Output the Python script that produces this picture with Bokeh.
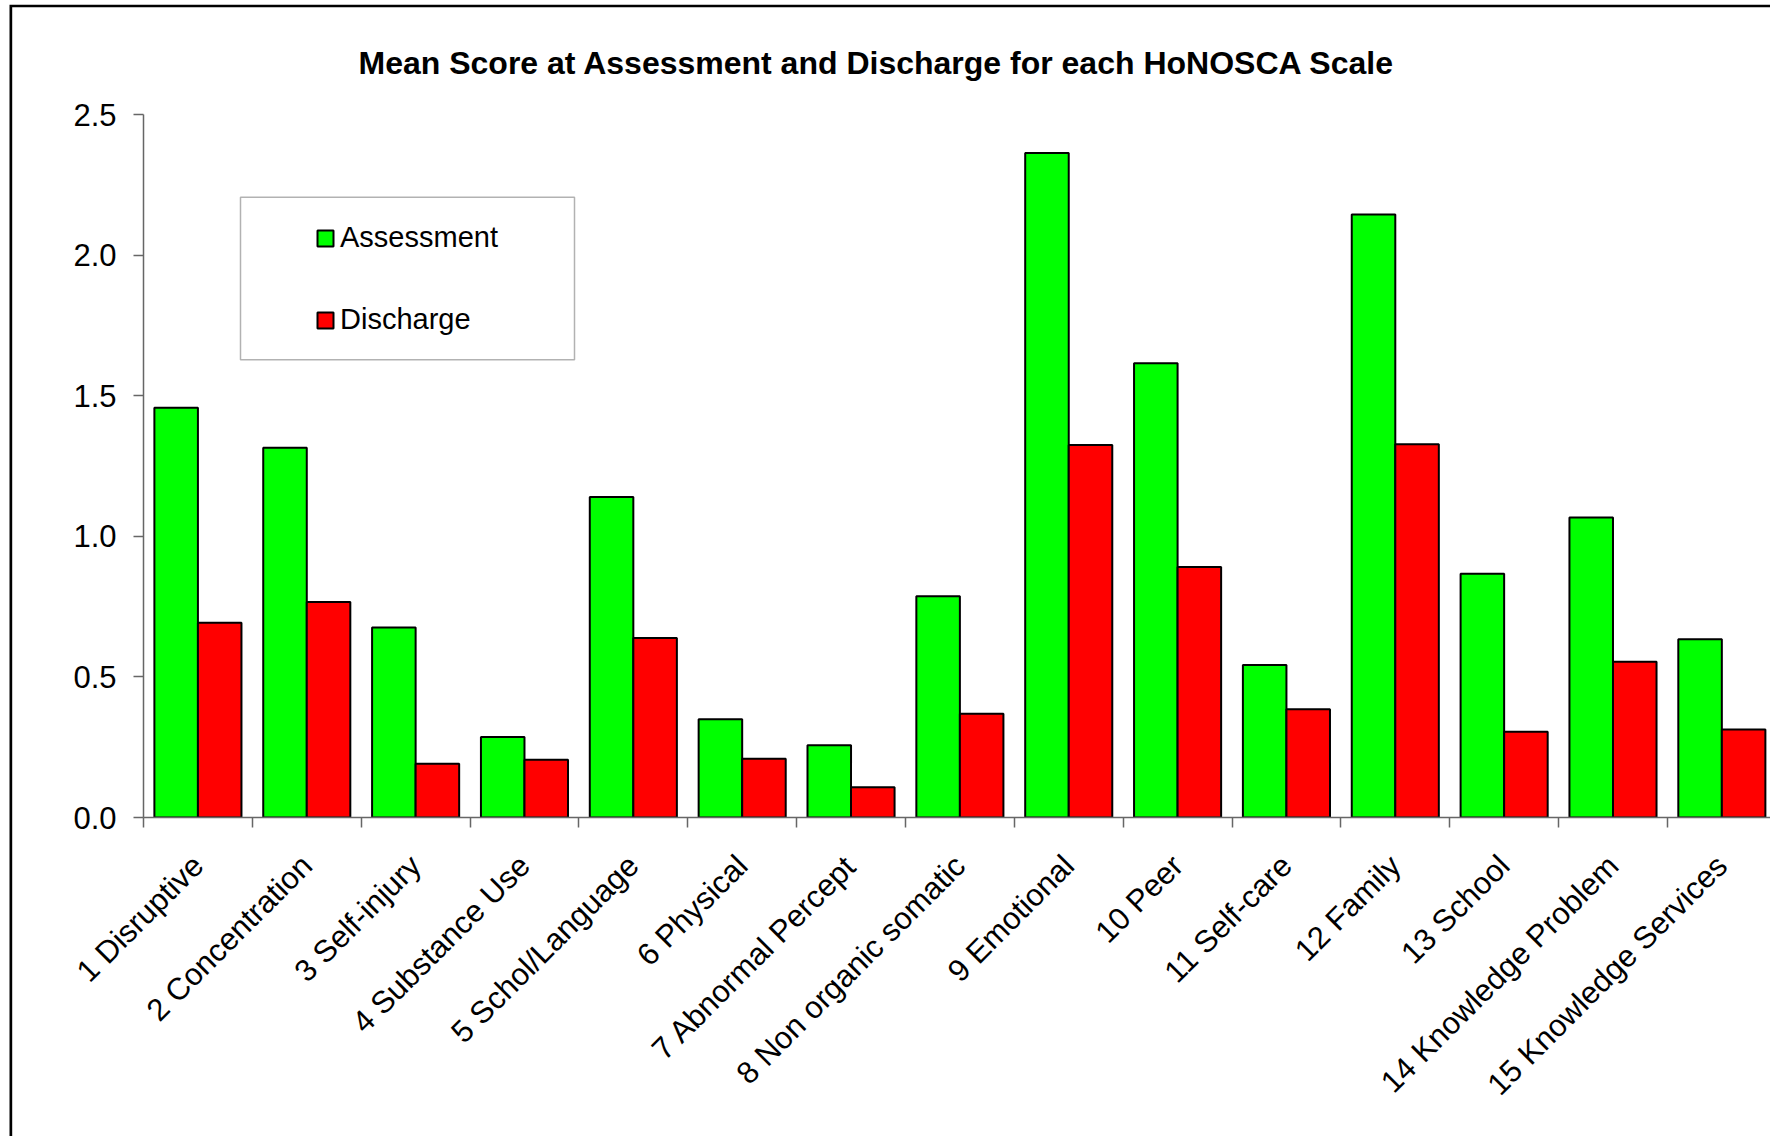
import math
import numpy as np
from bokeh.plotting import figure
from bokeh.models import (Range1d, FixedTicker, PrintfTickFormatter, BoxAnnotation,
                          ColumnDataSource)
from bokeh.transform import dodge
from bokeh.embed import file_html
from bokeh.resources import INLINE

# ---- data ----
categories = ["1 Disruptive", "2 Concentration", "3 Self-injury", "4 Substance Use",
              "5 Schol/Language", "6 Physical", "7 Abnormal Percept",
              "8 Non organic somatic", "9 Emotional", "10 Peer", "11 Self-care",
              "12 Family", "13 School", "14 Knowledge Problem", "15 Knowledge Services"]
assessment = [1.457, 1.315, 0.676, 0.286, 1.140, 0.349, 0.257, 0.787,
              2.363, 1.615, 0.542, 2.144, 0.867, 1.067, 0.634]
discharge = [0.693, 0.766, 0.191, 0.205, 0.638, 0.209, 0.108, 0.369,
             1.325, 0.891, 0.385, 1.327, 0.305, 0.554, 0.313]
y_ticks = [0.0, 0.5, 1.0, 1.5, 2.0, 2.5]
title_text = "Mean Score at Assessment and Discharge for each HoNOSCA Scale"

FONT = "Liberation Sans"
pos = np.arange(1, len(categories) + 1)

src = ColumnDataSource(dict(pos=pos, assessment=assessment, discharge=discharge))

p = figure(width=1770, height=1136, output_backend="svg", toolbar_location=None,
           x_range=Range1d(0.5, 0.5 + 14.947), y_range=Range1d(0, 2.5),
           min_border_left=143, min_border_right=0, min_border_top=114,
           min_border_bottom=319)
p.border_fill_color = None
p.background_fill_color = None
# chart-area frame (left and top edges) drawn by the host element
p.styles = {"box-shadow": "inset 9.5px 4.8px 0 0 white, inset 12.2px 7.3px 0 0 black",
            "background-color": "white"}

p.vbar(x=dodge("pos", -0.2), top="assessment", width=0.4, source=src,
       fill_color="#00FF00", line_color="black", line_width=2,
       legend_label="Assessment")
p.vbar(x=dodge("pos", 0.2), top="discharge", width=0.4, source=src,
       fill_color="#FF0000", line_color="black", line_width=2,
       legend_label="Discharge")

# title
p.title.text = title_text
p.title.text_font = FONT
p.title.text_font_style = "bold"
p.title.text_font_size = "32px"
p.title.text_color = "black"
p.title.align = "left"
p.title.offset = 215
p.title.standoff = 67

# axes
AX = "#666666"
xa = p.xaxis[0]
xa.ticker = FixedTicker(ticks=list(pos), minor_ticks=[i + 0.5 for i in range(len(categories) + 1)])
xa.major_label_overrides = {int(k): c for k, c in zip(pos, categories)}
xa.major_label_orientation = math.pi / 4
xa.major_label_text_font = FONT
xa.major_label_text_font_size = "31px"
xa.major_label_text_color = "black"
xa.major_tick_in = 0
xa.major_tick_out = 0
xa.minor_tick_in = 0
xa.minor_tick_out = 10
xa.minor_tick_line_color = AX
xa.minor_tick_line_width = 1.5
xa.axis_line_color = AX
xa.axis_line_width = 1.5
xa.major_label_standoff = 33

ya = p.yaxis[0]
ya.ticker = FixedTicker(ticks=y_ticks)
ya.formatter = PrintfTickFormatter(format="%.1f")
ya.major_label_text_font = FONT
ya.major_label_text_font_size = "31px"
ya.major_label_text_color = "black"
ya.major_tick_in = 0
ya.major_tick_out = 10
ya.major_tick_line_color = AX
ya.major_tick_line_width = 1.5
ya.minor_tick_line_color = None
ya.axis_line_color = AX
ya.axis_line_width = 1.5
ya.major_label_standoff = 17

p.xgrid.visible = False
p.ygrid.ticker = FixedTicker(ticks=[2.5])
p.ygrid.grid_line_color = "#999999"
p.ygrid.grid_line_width = 2.5
p.outline_line_color = None

# legend
lg = p.legend[0]
lg.location = (172, 481)
lg.border_line_color = None
lg.background_fill_alpha = 0
lg.padding = 0
lg.margin = 0
lg.spacing = 49
lg.glyph_width = 20
lg.glyph_height = 20
lg.label_height = 20
lg.label_standoff = 5
lg.label_text_font = FONT
lg.label_text_font_size = "29px"
lg.label_text_color = "black"

legend_box = BoxAnnotation(left=240, right=574, top=196.7, bottom=359.3,
                           left_units="canvas", right_units="canvas",
                           top_units="canvas", bottom_units="canvas",
                           fill_alpha=0, line_color="black", line_width=1.5)
p.add_layout(legend_box)

open("out.html", "w").write(file_html(p, INLINE))
